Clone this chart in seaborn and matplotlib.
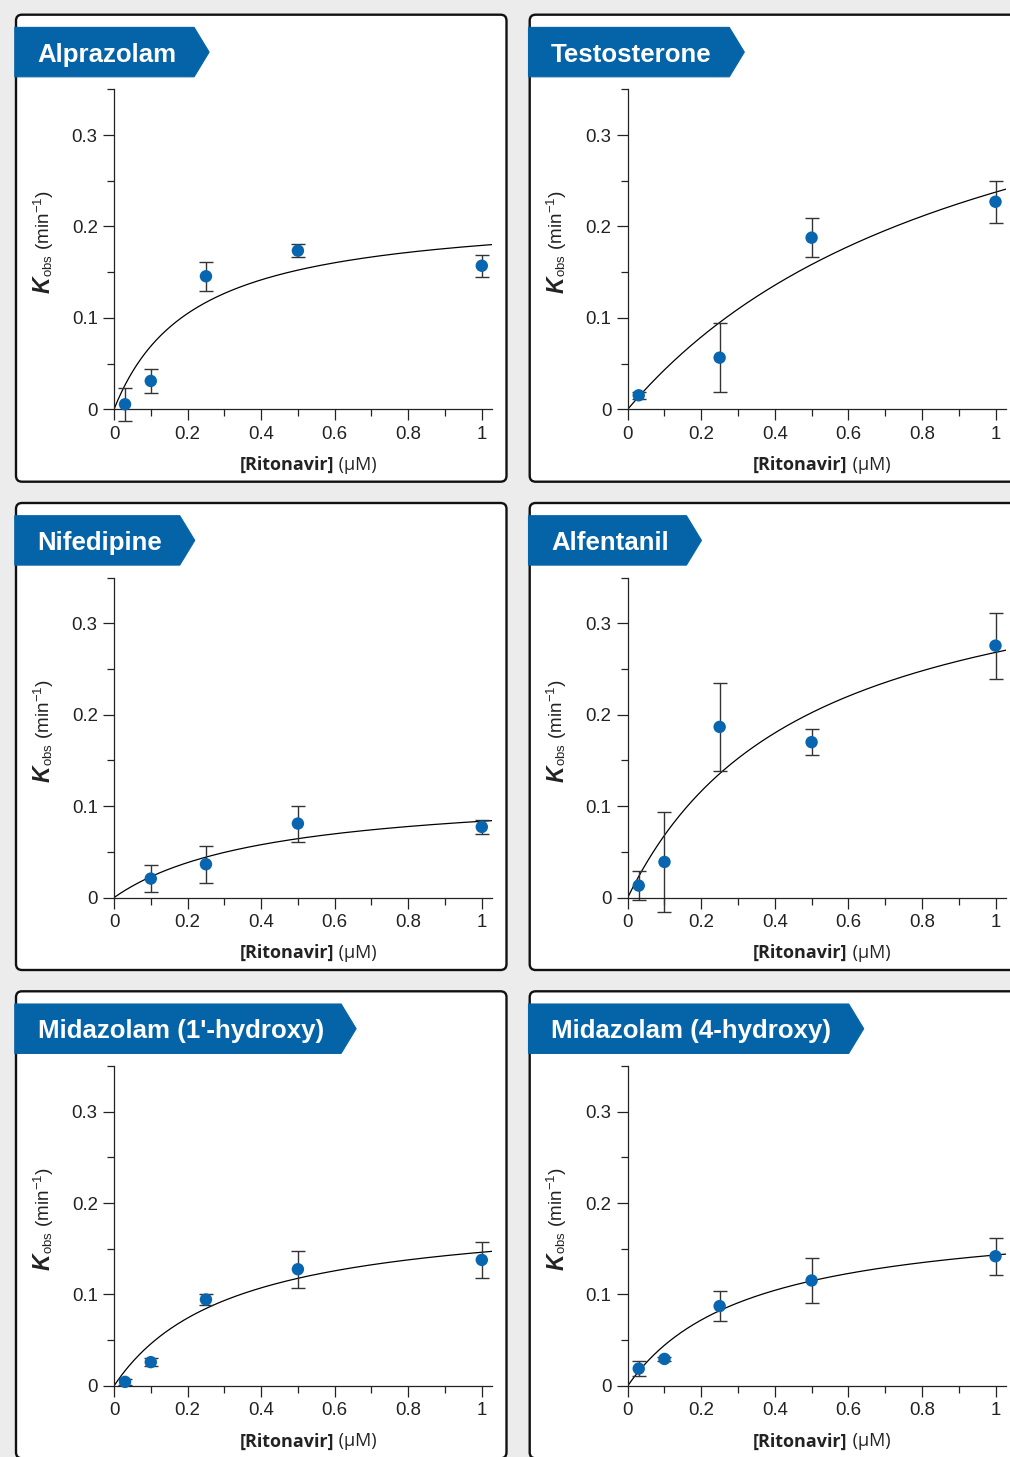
import numpy as np
import pandas as pd
import matplotlib
matplotlib.use("Agg")
import matplotlib.pyplot as plt
import seaborn as sns
from matplotlib.patches import FancyBboxPatch, Polygon
from matplotlib.transforms import IdentityTransform
from matplotlib.ticker import FixedLocator, FixedFormatter

# ---------------- data ----------------
titles = ["Alprazolam", "Testosterone", "Nifedipine", "Alfentanil",
          "Midazolam (1'-hydroxy)", "Midazolam (4-hydroxy)"]

alprazolam_x = [0.03, 0.1, 0.25, 0.5, 1.0]
alprazolam_kobs = [0.0055, 0.031, 0.1455, 0.1735, 0.157]
alprazolam_sd = [0.018, 0.0128, 0.016, 0.007, 0.012]

testosterone_x = [0.03, 0.25, 0.5, 1.0]
testosterone_kobs = [0.0153, 0.0565, 0.1877, 0.227]
testosterone_sd = [0.004, 0.038, 0.0213, 0.023]

nifedipine_x = [0.1, 0.25, 0.5, 1.0]
nifedipine_kobs = [0.0208, 0.0365, 0.081, 0.0773]
nifedipine_sd = [0.015, 0.0204, 0.0197, 0.0077]

alfentanil_x = [0.03, 0.1, 0.25, 0.5, 1.0]
alfentanil_kobs = [0.0131, 0.039, 0.1867, 0.170, 0.2756]
alfentanil_sd = [0.0155, 0.055, 0.048, 0.0145, 0.036]

midazolam1_x = [0.03, 0.1, 0.25, 0.5, 1.0]
midazolam1_kobs = [0.0044, 0.026, 0.0945, 0.1276, 0.1378]
midazolam1_sd = [0.003, 0.004, 0.0055, 0.020, 0.020]

midazolam4_x = [0.03, 0.1, 0.25, 0.5, 1.0]
midazolam4_kobs = [0.0189, 0.0295, 0.0873, 0.1153, 0.1418]
midazolam4_sd = [0.008, 0.002, 0.016, 0.025, 0.020]

# fitted hyperbola parameters: kobs = kinact*[I]/(KI+[I])
fit_kinact = [0.218, 0.475, 0.1185, 0.398, 0.193, 0.190]
fit_KI = [0.216, 1.0, 0.419, 0.484, 0.32, 0.327]

x_ticks = [0, 0.2, 0.4, 0.6, 0.8, 1.0]
x_tick_labels = ["0", "0.2", "0.4", "0.6", "0.8", "1"]
x_minor = [0.1, 0.3, 0.5, 0.7, 0.9]
y_ticks = [0, 0.1, 0.2, 0.3]
y_tick_labels = ["0", "0.1", "0.2", "0.3"]
y_minor = [0.05, 0.15, 0.25, 0.35]

xs_all = [alprazolam_x, testosterone_x, nifedipine_x, alfentanil_x, midazolam1_x, midazolam4_x]
ks_all = [alprazolam_kobs, testosterone_kobs, nifedipine_kobs, alfentanil_kobs, midazolam1_kobs, midazolam4_kobs]
sd_all = [alprazolam_sd, testosterone_sd, nifedipine_sd, alfentanil_sd, midazolam1_sd, midazolam4_sd]

# ---------------- style ----------------
sns.set_style("ticks")
plt.rcParams["font.family"] = ["Liberation Sans", "DejaVu Sans"]
plt.rcParams["mathtext.fontset"] = "custom"
plt.rcParams["mathtext.rm"] = "Liberation Sans"
plt.rcParams["mathtext.it"] = "Liberation Sans:italic"
plt.rcParams["mathtext.bf"] = "Liberation Sans:bold"

W, H = 1010, 1457
BLUE = "#0564a8"
DOT = "#0866b0"
INK = "#222222"

fig = plt.figure(figsize=(W / 100, H / 100), dpi=100)
fig.patch.set_facecolor("#ececec")
renderer = fig.canvas.get_renderer()
ID = IdentityTransform()

frame_lefts = [16, 529.7]
frame_tops = [14.7, 503, 991.3]
FW, FH = 490.5, 467

XMAX, YMAX = 1.028, 0.35
XSCALE, YSCALE = 367.8, 914.3

for i in range(6):
    r, c = divmod(i, 2)
    fl, ft = frame_lefts[c], frame_tops[r]

    # rounded white frame
    frame = FancyBboxPatch((fl, H - (ft + FH)), FW, FH,
                           boxstyle="round,pad=0,rounding_size=6",
                           transform=ID, facecolor="white", edgecolor="#111111",
                           lw=1.7, zorder=-5)
    fig.add_artist(frame)

    # banner
    bt = ft + 12.7
    bb = bt + 49.4
    t = fig.text(fl + 21.5, H - (bt + 34.4), titles[i], transform=ID,
                 fontsize=18.6, fontweight="bold", color="white",
                 ha="left", va="baseline", zorder=3)
    tw = t.get_window_extent(renderer).width
    xs = fl + 21.5 + tw + 17.5
    tip = xs + 15
    poly = Polygon([(fl - 1.2, H - bt), (xs, H - bt), (tip, H - (bt + bb) / 2),
                    (xs, H - bb), (fl - 1.2, H - bb)], closed=True,
                   transform=ID, facecolor=BLUE, edgecolor=BLUE, lw=0.8,
                   joinstyle="round", zorder=2)
    fig.add_artist(poly)

    # axes
    axl = fl + 98
    axb = ft + 394.6
    axw = XMAX * XSCALE
    axh = YMAX * YSCALE
    ax = fig.add_axes([axl / W, (H - axb) / H, axw / W, axh / H])
    ax.set_facecolor("none")

    x = np.array(xs_all[i])
    k = np.array(ks_all[i])
    sd = np.array(sd_all[i])

    xfit = np.linspace(0, XMAX, 300)
    yfit = fit_kinact[i] * xfit / (fit_KI[i] + xfit)
    sns.lineplot(x=xfit, y=yfit, ax=ax, color="black", lw=0.9,
                 errorbar=None, zorder=2)

    cont = ax.errorbar(x, k, yerr=sd, fmt="none", ecolor="#333333",
                       elinewidth=1.0, capsize=4.7, capthick=1.0, zorder=2.5)
    for art in cont.get_children():
        art.set_clip_on(False)

    sns.scatterplot(x=x, y=k, ax=ax, color=DOT, s=80, edgecolor="none",
                    linewidth=0, zorder=3, legend=False)
    ax.collections[-1].set_clip_on(False)

    ax.set_xlim(0, XMAX)
    ax.set_ylim(0, YMAX)
    ax.set_xlabel("")
    ax.set_ylabel("")
    for s in ["top", "right"]:
        ax.spines[s].set_visible(False)
    for s in ["left", "bottom"]:
        ax.spines[s].set_color(INK)
        ax.spines[s].set_linewidth(0.9)

    ax.xaxis.set_major_locator(FixedLocator(x_ticks))
    ax.xaxis.set_major_formatter(FixedFormatter(x_tick_labels))
    ax.xaxis.set_minor_locator(FixedLocator(x_minor))
    ax.yaxis.set_major_locator(FixedLocator(y_ticks))
    ax.yaxis.set_major_formatter(FixedFormatter(y_tick_labels))
    ax.yaxis.set_minor_locator(FixedLocator(y_minor))
    ax.tick_params(which="major", length=8.2, width=0.9, color=INK,
                   labelsize=13.4, labelcolor=INK, pad=3.5, direction="out")
    ax.tick_params(which="minor", length=4.8, width=0.9, color=INK, direction="out")

    # y label: K (bold italic) + obs (min^-1)
    bx = axl - 64.5
    by = axb - 116
    tk = fig.text(bx, H - by, "K", transform=ID, rotation=90,
                  rotation_mode="anchor", ha="left", va="baseline",
                  fontsize=16.5, fontweight="bold", fontstyle="italic",
                  color=INK)
    hk = tk.get_window_extent(renderer).height
    fig.text(bx, H - by + hk - 0.5,
             r"$_{\mathregular{obs}}$ (min$^{\mathregular{-1}}$)",
             transform=ID, rotation=90, rotation_mode="anchor",
             ha="left", va="baseline", fontsize=13.6, color=INK)

    # x label: [Ritonavir] bold + (µM)
    t1 = fig.text(0, 0, "[Ritonavir]", transform=ID, fontsize=13.0,
                  fontweight="bold", family=["Open Sans", "DejaVu Sans"],
                  color=INK, ha="left", va="baseline")
    t2 = fig.text(0, 0, " (µM)", transform=ID, fontsize=13.0,
                  family=["Open Sans", "DejaVu Sans"], color=INK,
                  ha="left", va="baseline")
    w1 = t1.get_window_extent(renderer).width
    w2 = t2.get_window_extent(renderer).width
    cx = axl + 194
    x0 = cx - (w1 + w2) / 2
    ybase = H - (axb + 60.5)
    t1.set_position((x0, ybase))
    t2.set_position((x0 + w1, ybase))

fig.savefig("out.png", dpi=100, facecolor=fig.get_facecolor())
